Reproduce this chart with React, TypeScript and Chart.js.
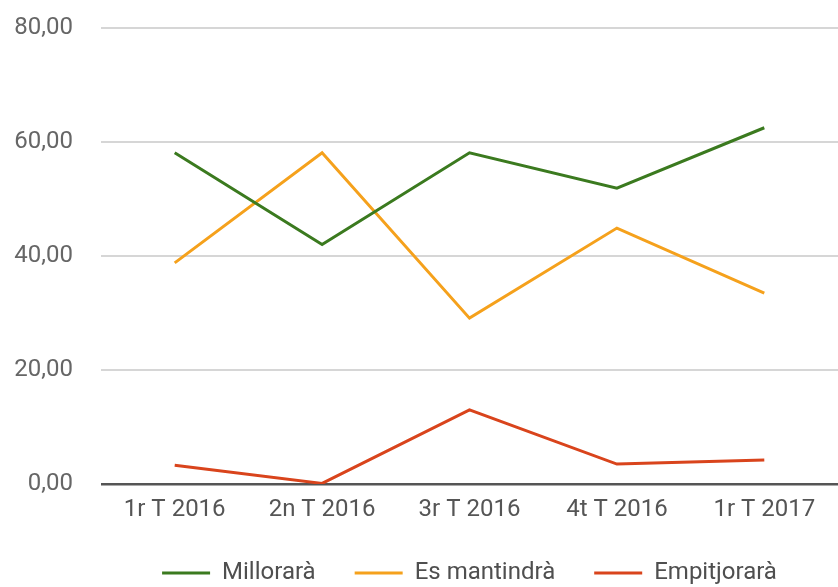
import React, { useEffect, useRef } from "react";
import { Chart, registerables } from "chart.js";

Chart.register(...registerables);

const categories = ["1r T 2016", "2n T 2016", "3r T 2016", "4t T 2016", "1r T 2017"];
const millorara = [58.1, 42.0, 58.1, 51.9, 62.5];
const esMantindra = [38.8, 58.1, 29.1, 44.9, 33.5];
const empitjorara = [3.3, 0.1, 13.0, 3.5, 4.2];
const seriesNames = ["Millorarà", "Es mantindrà", "Empitjorarà"];
const yTicks = [0, 20, 40, 60, 80];

const colors = ["#3b7a1f", "#f5a11c", "#d9441c"];
const FONT = "Roboto, 'Liberation Sans', Arial, sans-serif";

export default function App() {
  const ref = useRef<HTMLCanvasElement | null>(null);

  useEffect(() => {
    if (!ref.current) return;
    const data = [millorara, esMantindra, empitjorara];
    const chart = new Chart(ref.current, {
      type: "line",
      data: {
        labels: categories,
        datasets: seriesNames.map((name, i) => ({
          label: name,
          data: data[i],
          borderColor: colors[i],
          backgroundColor: colors[i],
          borderWidth: 3,
          pointRadius: 0,
          tension: 0,
          fill: false,
        })),
      },
      options: {
        animation: false,
        responsive: false,
        maintainAspectRatio: false,
        layout: { padding: { top: 28, right: 0, left: 0, bottom: 0 } },
        plugins: {
          tooltip: { enabled: false },
          legend: {
            position: "bottom",
            fullSize: false,
            maxHeight: 65,
            labels: {
              boxWidth: 48,
              boxHeight: 3,
              padding: 39,
              color: "#4f4f4f",
              font: { family: FONT, size: 24 },
              generateLabels: (c: any) => {
                const items = Chart.defaults.plugins.legend.labels.generateLabels(c);
                return items.map((it: any) => ({ ...it, lineWidth: 0 }));
              },
            },
          },
        },
        scales: {
          x: {
            offset: true,
            grid: { display: false, drawTicks: false },
            border: { display: false },
            ticks: {
              padding: 12,
              color: "#555555",
              font: { family: FONT, size: 24 },
              maxRotation: 0,
            },
            afterFit: (s: any) => {
              s.height = 38;
            },
          },
          y: {
            min: 0,
            max: 80,
            afterBuildTicks: (s: any) => {
              s.ticks = yTicks.map((v) => ({ value: v }));
            },
            grid: {
              drawTicks: false,
              color: (ctx: any) => (ctx.tick && ctx.tick.value === 0 ? "#555555" : "#d6d6d6"),
              lineWidth: (ctx: any) => (ctx.tick && ctx.tick.value === 0 ? 2.5 : 2),
            },
            border: { display: false },
            ticks: {
              padding: 28,
              color: "#666666",
              font: { family: FONT, size: 24 },
              callback: (v: any) => Number(v).toFixed(2).replace(".", ","),
            },
            afterFit: (s: any) => {
              s.width = 101;
              s.paddingTop = 0;
              s.paddingBottom = 0;
            },
          },
        },
      },
    });
    return () => chart.destroy();
  }, []);

  return (
    <div style={{ position: "absolute", left: 0, top: 0, width: 838, height: 587, background: "#fff" }}>
      <canvas ref={ref} width={838} height={587} style={{ width: 838, height: 587, display: "block" }} />
    </div>
  );
}
